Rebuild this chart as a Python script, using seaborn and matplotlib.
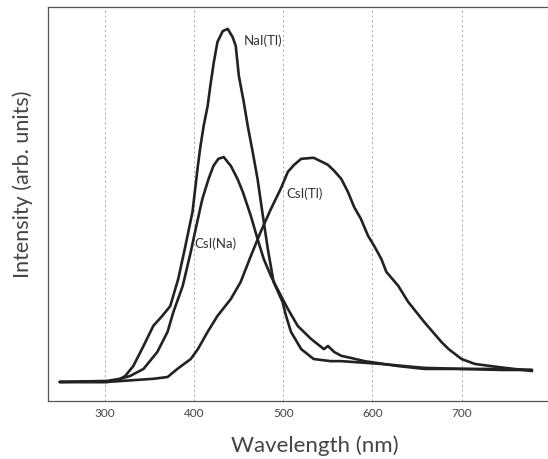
import numpy as np
import pandas as pd
import matplotlib
matplotlib.use("Agg")
import matplotlib.pyplot as plt
import seaborn as sns

# Emission spectra of three scintillators (normalised so NaI(Tl) peak = 1)
nai_wl = [249, 302, 317, 322.5, 331.5, 343, 354, 364, 373, 382, 390, 398, 404, 407, 410.5,
          415, 418, 422, 426, 432, 437.5, 443, 446.5, 450, 455.5, 460, 465.5, 471, 477,
          482.5, 489, 499, 503, 508.5, 520, 534, 553, 565, 610, 658, 700, 745, 779]
nai_int = [0, 0, 0.009, 0.017, 0.045, 0.102, 0.159, 0.187, 0.215, 0.292, 0.385, 0.482, 0.612,
           0.669, 0.725, 0.782, 0.839, 0.907, 0.963, 0.994, 1.0, 0.977, 0.952, 0.867, 0.793,
           0.725, 0.652, 0.575, 0.470, 0.377, 0.283, 0.227, 0.187, 0.142, 0.093, 0.065,
           0.059, 0.059, 0.051, 0.040, 0.037, 0.037, 0.034]

csna_wl = [249, 302, 317, 328, 343, 358.5, 370, 376.5, 387, 396, 401.5, 409, 416, 421.5, 427,
           433, 441, 448.5, 454.5, 463.5, 471, 478, 486, 495, 505, 516, 531, 545.5, 550,
           557, 565, 576, 591, 629, 658, 700, 745, 779]
csna_int = [0, 0.003, 0.009, 0.017, 0.037, 0.085, 0.142, 0.198, 0.272, 0.368, 0.433, 0.518,
            0.575, 0.612, 0.632, 0.637, 0.612, 0.575, 0.538, 0.470, 0.405, 0.348, 0.300,
            0.255, 0.207, 0.159, 0.122, 0.093, 0.102, 0.085, 0.074, 0.068, 0.059, 0.045,
            0.037, 0.037, 0.034, 0.034]

cstl_wl = [249, 302, 354, 370, 381, 396, 404, 415, 426, 441, 452, 463.5, 474.5, 486, 497,
           505, 512, 520, 534, 550, 557, 565, 572.5, 579.5, 587, 595, 602, 610, 615.5,
           629, 640, 658, 677.5, 685.5, 700, 715, 742, 779]
cstl_int = [0, 0, 0.009, 0.014, 0.037, 0.065, 0.093, 0.142, 0.187, 0.235, 0.283, 0.357,
            0.425, 0.490, 0.547, 0.595, 0.615, 0.632, 0.635, 0.615, 0.598, 0.575, 0.538,
            0.495, 0.462, 0.414, 0.385, 0.348, 0.312, 0.272, 0.227, 0.170, 0.113, 0.093,
            0.065, 0.051, 0.042, 0.031]

series_names = ["NaI(Tl)", "CsI(Na)", "CsI(Tl)"]
x_ticks = [300, 400, 500, 600, 700]

df = pd.concat([
    pd.DataFrame({"wavelength": nai_wl, "intensity": nai_int, "crystal": series_names[0]}),
    pd.DataFrame({"wavelength": csna_wl, "intensity": csna_int, "crystal": series_names[1]}),
    pd.DataFrame({"wavelength": cstl_wl, "intensity": cstl_int, "crystal": series_names[2]}),
])

sns.set_theme(style="white")
plt.rcParams["font.family"] = ["Lato", "DejaVu Sans"]

fig = plt.figure(figsize=(5.48, 4.60), dpi=100)
ax = fig.add_axes([0.0876, 0.126, 0.9124, 0.8566])

ink = "#222222"
sns.lineplot(data=df, x="wavelength", y="intensity", hue="crystal",
             palette={n: ink for n in series_names}, linewidth=1.9,
             legend=False, ax=ax, estimator=None)

ax.set_xlim(235.8, 797)
ax.set_ylim(-0.054, 1.062)
ax.set_xticks(x_ticks)
ax.set_xticklabels([str(t) for t in x_ticks], fontsize=8.5, color="#444444")
ax.set_yticks([])
ax.tick_params(axis="x", length=0, pad=4)

for t in x_ticks:
    ax.axvline(t, color="#a5a5a5", linewidth=0.7, linestyle=(0, (2, 3)), zorder=0)

for side in ["left", "top", "bottom"]:
    ax.spines[side].set_color("#555555")
    ax.spines[side].set_linewidth(0.9)
ax.spines["right"].set_visible(False)

ax.set_xlabel("Wavelength (nm)", fontsize=16, color="#444444")
ax.set_ylabel("Intensity (arb. units)", fontsize=15.5, color="#444444")
ax.xaxis.set_label_coords(0.534, -0.085)
ax.yaxis.set_label_coords(-0.03, 0.553)

label_font = dict(fontsize=9.5, color="#333333", va="center", ha="left")
ax.text(455.5, 0.969, "NaI(Tl)", **label_font)
ax.text(503, 0.535, "CsI(Tl)", **label_font)
ax.text(400, 0.394, "CsI(Na)", **label_font)

fig.savefig("out.png", dpi=100)
